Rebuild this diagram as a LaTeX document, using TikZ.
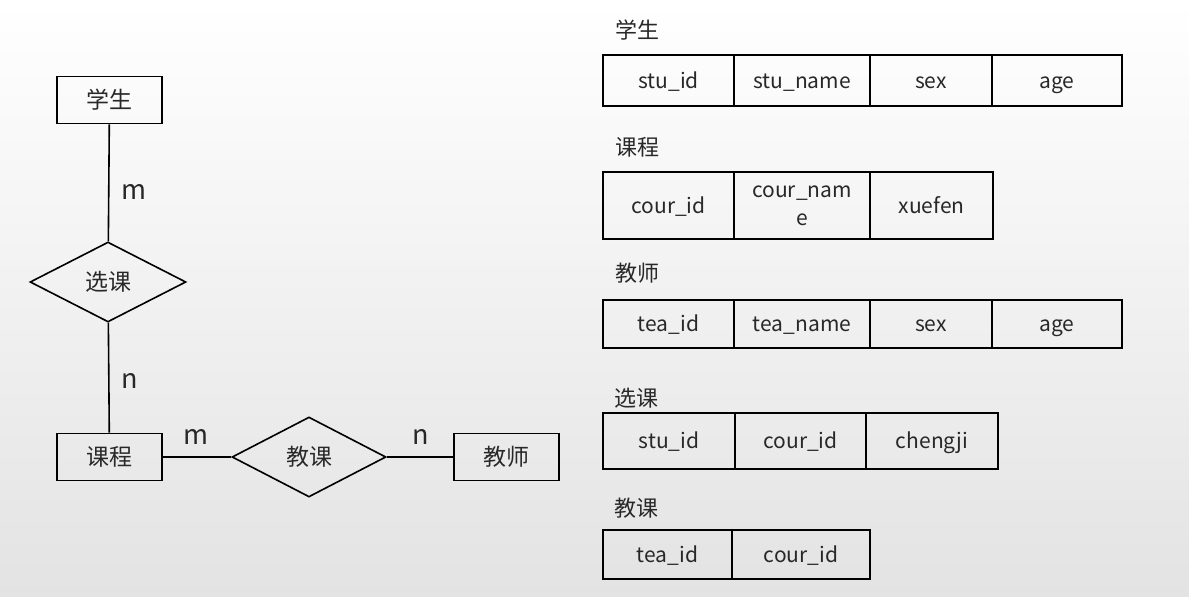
\documentclass[tikz,border=0pt]{standalone}
\usepackage{fontspec}
\setmainfont{Noto Sans CJK SC}
\usetikzlibrary{shapes.geometric}
\definecolor{txt}{RGB}{40,40,40}
\begin{document}
\begin{tikzpicture}[x=1pt,y=-1pt,
  ent/.style={draw, line width=1.6pt, minimum width=105pt, minimum height=47pt, inner sep=0pt, font=\fontsize{23}{26}\selectfont, text=txt},
  rel/.style={draw, diamond, line width=1.6pt, minimum width=156pt, minimum height=80pt, aspect=2, inner sep=0pt, font=\fontsize{23}{26}\selectfont, text=txt},
  card/.style={inner sep=0pt, font=\fontsize{27}{29}\selectfont, text=txt},
  conn/.style={line width=1.6pt},
  tcell/.style={draw, line width=1.6pt, inner sep=0pt, align=center, text height=19pt, text depth=4pt, font=\fontsize{21}{28}\selectfont, text=txt},
  ttl/.style={anchor=west, inner sep=0pt, font=\fontsize{22}{24}\selectfont, text=txt}]
\shade[top color=white, bottom color=gray!22] (0,0) rectangle (1189,597);
\useasboundingbox (0,0) rectangle (1189,597);

% ER diagram
\node[ent] (stu) at (109.5,100) {学生};
\node[rel] (xk) at (108,282) {选课};
\node[ent] (kc) at (109.5,457) {课程};
\node[rel, minimum width=154pt] (jk) at (309,457) {教课};
\node[ent] (js) at (506.5,457) {教师};
\draw[conn] (stu) -- (xk);
\draw[conn] (xk) -- (kc);
\draw[conn] (kc) -- (jk);
\draw[conn] (jk) -- (js);
\node[card] (c1) at (134,192) {m};
\node[card] (c2) at (129.5,381) {n};
\node[card] (c3) at (196,437) {m};
\node[card] (c4) at (421,437) {n};

% tables
\node[ttl] (t1) at (615,30) {学生};
\node[tcell, minimum width=131pt, minimum height=51pt] (a1) at (668.5,80.5) {stu\_id};
\node[tcell, minimum width=136pt, minimum height=51pt] (a2) at (802,80.5) {stu\_name};
\node[tcell, minimum width=122pt, minimum height=51pt] (a3) at (931,80.5) {sex};
\node[tcell, minimum width=130pt, minimum height=51pt] (a4) at (1057,80.5) {age};

\node[ttl] (t2) at (615,147) {课程};
\node[tcell, minimum width=131pt, minimum height=67pt] (b1) at (668.5,205.5) {cour\_id};
\node[tcell, text height={}, text depth={}, minimum width=136pt, minimum height=67pt] (b2) at (802,205.5) {cour\_nam\\e};
\node[tcell, minimum width=123pt, minimum height=67pt] (b3) at (931.5,205.5) {xuefen};

\node[ttl] (t3) at (615,273) {教师};
\node[tcell, minimum width=131pt, minimum height=48pt] (d1) at (668.5,324) {tea\_id};
\node[tcell, minimum width=136pt, minimum height=48pt] (d2) at (802,324) {tea\_name};
\node[tcell, minimum width=122pt, minimum height=48pt] (d3) at (931,324) {sex};
\node[tcell, minimum width=130pt, minimum height=48pt] (d4) at (1057,324) {age};

\node[ttl] (t4) at (614,398) {选课};
\node[tcell, minimum width=132pt, minimum height=56pt] (e1) at (669,441) {stu\_id};
\node[tcell, minimum width=131pt, minimum height=56pt] (e2) at (800.5,441) {cour\_id};
\node[tcell, minimum width=132pt, minimum height=56pt] (e3) at (932,441) {chengji};

\node[ttl] (t5) at (614,508) {教课};
\node[tcell, minimum width=129pt, minimum height=49pt] (f1) at (667.5,554.5) {tea\_id};
\node[tcell, minimum width=138pt, minimum height=49pt] (f2) at (801,554.5) {cour\_id};
\end{tikzpicture}
\end{document}
